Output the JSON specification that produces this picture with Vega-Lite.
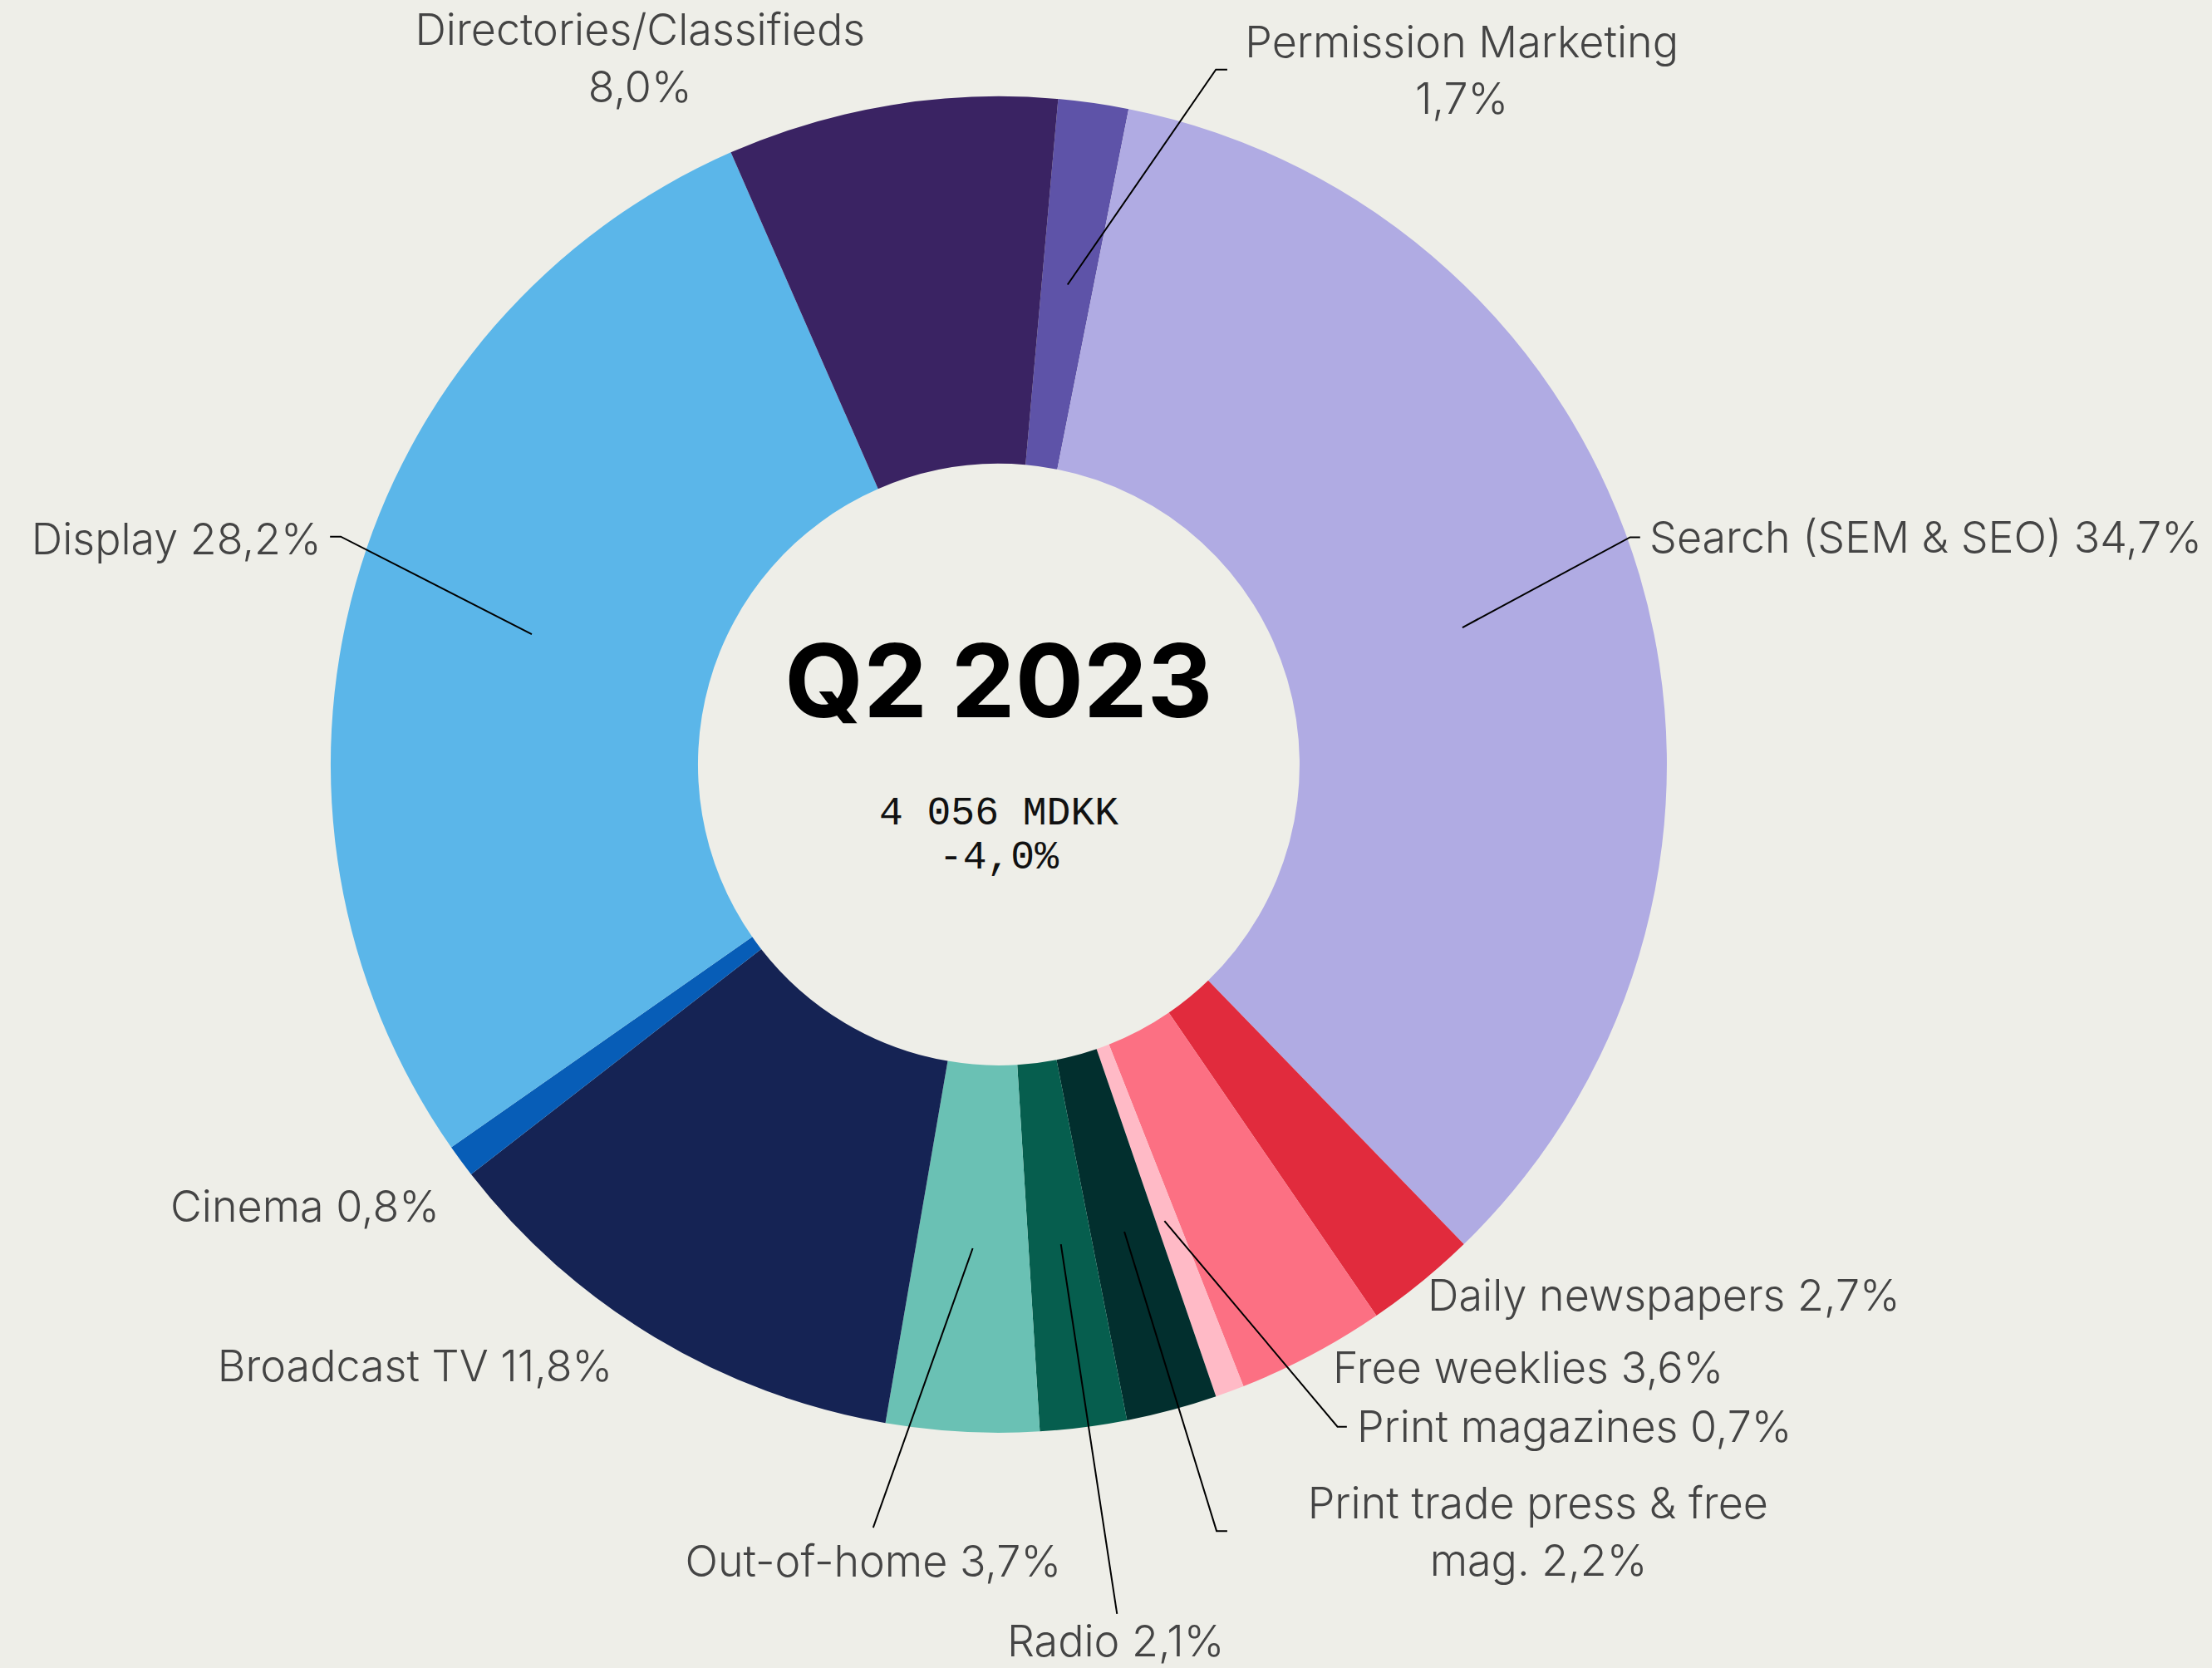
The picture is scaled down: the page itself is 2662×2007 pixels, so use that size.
{
  "$schema": "https://vega.github.io/schema/vega-lite/v6.json",
  "width": 2662,
  "height": 2007,
  "padding": 0,
  "autosize": {"type": "none"},
  "background": "#eeeee8",
  "config": {"view": {"stroke": null}},
  "datasets": {
    "shares": [
      {"medium": "Permission Marketing", "share": 1.7, "rank": 1},
      {"medium": "Search (SEM & SEO)", "share": 34.7, "rank": 2},
      {"medium": "Daily newspapers", "share": 2.7, "rank": 3},
      {"medium": "Free weeklies", "share": 3.6, "rank": 4},
      {"medium": "Print magazines", "share": 0.7, "rank": 5},
      {"medium": "Print trade press & free mag.", "share": 2.2, "rank": 6},
      {"medium": "Radio", "share": 2.1, "rank": 7},
      {"medium": "Out-of-home", "share": 3.7, "rank": 8},
      {"medium": "Broadcast TV", "share": 11.8, "rank": 9},
      {"medium": "Cinema", "share": 0.8, "rank": 10},
      {"medium": "Display", "share": 28.2, "rank": 11},
      {"medium": "Directories/Classifieds", "share": 8.0, "rank": 12}
    ],
    "leaders": [
      {"leader": "Permission Marketing", "k": 0, "x": 10.3, "y": 71.8},
      {"leader": "Permission Marketing", "k": 1, "x": 32.5, "y": 104.0},
      {"leader": "Permission Marketing", "k": 2, "x": 34.2, "y": 104.0},
      {"leader": "Search", "k": 0, "x": 69.4, "y": 20.5},
      {"leader": "Search", "k": 1, "x": 94.5, "y": 34.0},
      {"leader": "Search", "k": 2, "x": 96.0, "y": 34.0},
      {"leader": "Display", "k": 0, "x": -69.9, "y": 19.5},
      {"leader": "Display", "k": 1, "x": -98.5, "y": 34.1},
      {"leader": "Display", "k": 2, "x": -100.1, "y": 34.1},
      {"leader": "Out-of-home", "k": 0, "x": -3.9, "y": -72.4},
      {"leader": "Out-of-home", "k": 1, "x": -18.8, "y": -114.2},
      {"leader": "Radio", "k": 0, "x": 9.3, "y": -71.8},
      {"leader": "Radio", "k": 1, "x": 17.7, "y": -127.1},
      {"leader": "Print trade", "k": 0, "x": 18.8, "y": -69.9},
      {"leader": "Print trade", "k": 1, "x": 32.6, "y": -114.7},
      {"leader": "Print trade", "k": 2, "x": 34.2, "y": -114.7},
      {"leader": "Print magazines", "k": 0, "x": 24.8, "y": -68.3},
      {"leader": "Print magazines", "k": 1, "x": 50.7, "y": -99.1},
      {"leader": "Print magazines", "k": 2, "x": 52.1, "y": -99.1}
    ],
    "labelsLeft": [
      {"label": "Search (SEM & SEO) 34,7%", "x": 97.4, "y": 31.7},
      {"label": "Daily newspapers 2,7%", "x": 64.2, "y": -81.7},
      {"label": "Free weeklies 3,6%", "x": 50.0, "y": -92.5},
      {"label": "Print magazines 0,7%", "x": 53.6, "y": -101.4}
    ],
    "labelsRight": [
      {"label": "Display 28,2%", "x": -101.4, "y": 31.5},
      {"label": "Cinema 0,8%", "x": -83.7, "y": -68.4},
      {"label": "Broadcast TV 11,8%", "x": -57.8, "y": -92.3}
    ],
    "labelsCenter": [
      {"label": "Directories/Classifieds", "x": -53.7, "y": 107.7},
      {"label": "8,0%", "x": -53.7, "y": 99.1},
      {"label": "Permission Marketing", "x": 69.3, "y": 105.8},
      {"label": "1,7%", "x": 69.3, "y": 97.4},
      {"label": "Out-of-home 3,7%", "x": -18.8, "y": -121.5},
      {"label": "Radio 2,1%", "x": 17.5, "y": -133.4},
      {"label": "Print trade press & free", "x": 80.7, "y": -112.8},
      {"label": "mag.  2,2%", "x": 80.8, "y": -121.4}
    ],
    "title": [{"label": "Q2 2023", "x": 0, "y": 7.1}],
    "totals": [
      {"label": "4 056 MDKK", "x": 0, "y": -9.0},
      {"label": "-4,0%", "x": 0, "y": -15.5}
    ]
  },
  "layer": [
    {
      "data": {"name": "shares"},
      "mark": {"type": "arc", "outerRadius": 804, "innerRadius": 362},
      "encoding": {
        "x": {"datum": 0, "type": "quantitative", "scale": {"domain": [-149.5, 181.6], "nice": false, "zero": false}, "axis": null},
        "y": {"datum": 0, "type": "quantitative", "scale": {"domain": [-135.2, 114.4], "nice": false, "zero": false}, "axis": null},
        "theta": {"field": "share", "type": "quantitative", "stack": true, "scale": {"range": [0.089, 6.3722]}},
        "order": {"field": "rank", "type": "quantitative"},
        "color": {
          "field": "medium", "type": "nominal", "legend": null,
          "scale": {
            "domain": ["Permission Marketing", "Search (SEM & SEO)", "Daily newspapers", "Free weeklies", "Print magazines", "Print trade press & free mag.", "Radio", "Out-of-home", "Broadcast TV", "Cinema", "Display", "Directories/Classifieds"],
            "range": ["#5e53a8", "#b0abe3", "#e12b3d", "#fc7083", "#ffbac6", "#022f2e", "#065e4e", "#6ac1b4", "#152354", "#075db7", "#5bb6e9", "#3a2363"]
          }
        }
      }
    },
    {
      "data": {"name": "leaders"},
      "mark": {"type": "line", "stroke": "#000000", "strokeWidth": 2},
      "encoding": {
        "x": {"field": "x", "type": "quantitative", "axis": null},
        "y": {"field": "y", "type": "quantitative", "axis": null},
        "detail": {"field": "leader"},
        "order": {"field": "k", "type": "quantitative"}
      }
    },
    {
      "data": {"name": "labelsLeft"},
      "mark": {"type": "text", "align": "left", "baseline": "alphabetic", "font": "Inter", "fontWeight": 300, "fontSize": 52, "color": "#444444"},
      "encoding": {
        "x": {"field": "x", "type": "quantitative", "axis": null},
        "y": {"field": "y", "type": "quantitative", "axis": null},
        "text": {"field": "label"}
      }
    },
    {
      "data": {"name": "labelsRight"},
      "mark": {"type": "text", "align": "right", "baseline": "alphabetic", "font": "Inter", "fontWeight": 300, "fontSize": 52, "color": "#444444"},
      "encoding": {
        "x": {"field": "x", "type": "quantitative", "axis": null},
        "y": {"field": "y", "type": "quantitative", "axis": null},
        "text": {"field": "label"}
      }
    },
    {
      "data": {"name": "labelsCenter"},
      "mark": {"type": "text", "align": "center", "baseline": "alphabetic", "font": "Inter", "fontWeight": 300, "fontSize": 52, "color": "#444444"},
      "encoding": {
        "x": {"field": "x", "type": "quantitative", "axis": null},
        "y": {"field": "y", "type": "quantitative", "axis": null},
        "text": {"field": "label"}
      }
    },
    {
      "data": {"name": "title"},
      "mark": {"type": "text", "align": "center", "baseline": "alphabetic", "font": "Inter", "fontWeight": "bold", "fontSize": 122, "color": "#000000"},
      "encoding": {
        "x": {"field": "x", "type": "quantitative", "axis": null},
        "y": {"field": "y", "type": "quantitative", "axis": null},
        "text": {"field": "label"}
      }
    },
    {
      "data": {"name": "totals"},
      "mark": {"type": "text", "align": "center", "baseline": "alphabetic", "font": "Liberation Mono", "fontSize": 48, "color": "#111111"},
      "encoding": {
        "x": {"field": "x", "type": "quantitative", "axis": null},
        "y": {"field": "y", "type": "quantitative", "axis": null},
        "text": {"field": "label"}
      }
    }
  ]
}
